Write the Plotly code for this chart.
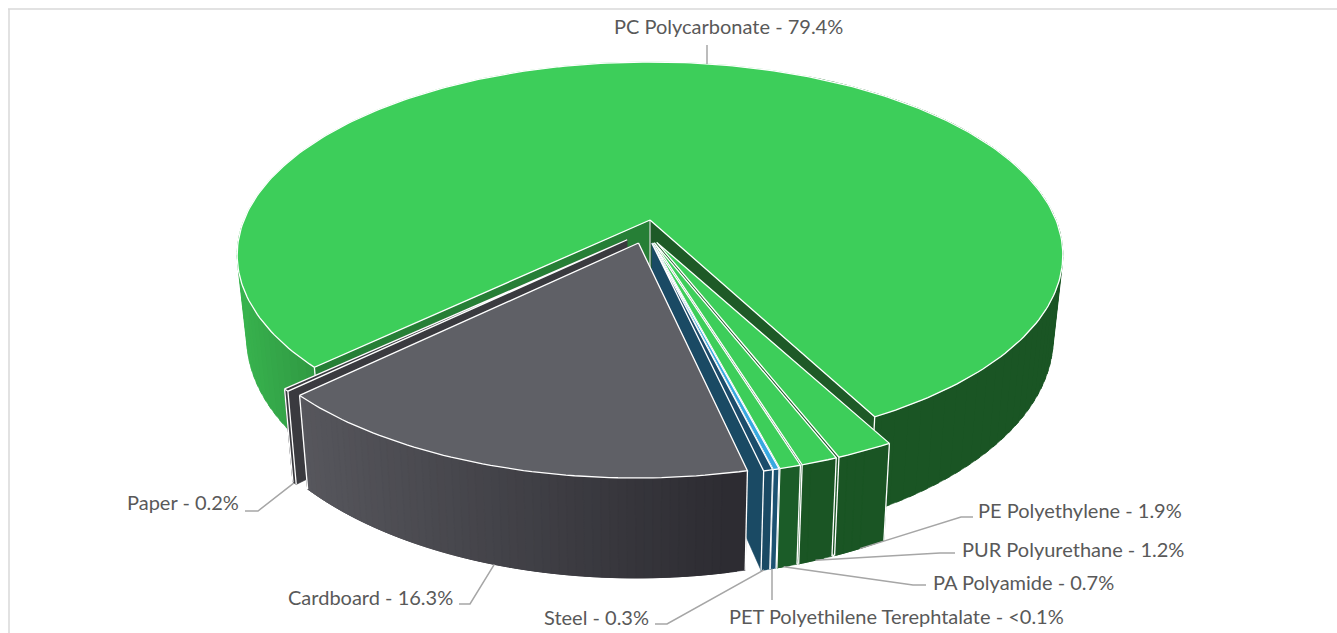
import math
import plotly.graph_objects as go

# ---- data (clockwise from the right cut of the big slice)
names = ["PE Polyethylene", "PUR Polyurethane", "PA Polyamide",
         "PET Polyethilene Terephtalate", "Steel", "Cardboard", "Paper", "PC Polycarbonate"]
values = [1.9, 1.2, 0.7, 0.2, 0.3, 16.3, 0.2, 79.4]
value_text = ["1.9%", "1.2%", "0.7%", "<0.1%", "0.3%", "16.3%", "0.2%", "79.4%"]

# ---- styles
top_col = ["#3dce5a", "#3dce5a", "#3dce5a", "#38a8e0", "#1b4c6b", "#5f6066", "#3a3a40", "#3dce5a"]
side_left = ["#1a5524", "#1a5524", "#1b5c28", "#1c5272", "#1a4a64", "#58585e", "#3a3a3f", "#38b34e"]
side_right = ["#1a5524", "#1a5524", "#1b5c28", "#1c5272", "#1a4a64", "#2d2c32", "#3a3a3f", "#1a5524"]
wall_col = ["#1a5524", "#1a5524", "#1b5c28", "#1c5272", "#1a4a64", "#2d2c32", "#3a3a3f", None]
draw_order = [7, 0, 1, 2, 3, 4, 6, 5]

# ---- projection of the tilted pie
CX, Y0, A, C, R = 650.0, 220.0, -146.8, 0.181, 406.0
K, DEPTH, P = 0.977, 80.0, 1.0
START = -61.6
PC_EXTRA = 0.7
CARD_EXTRA = 0.5
EXPLODE = 0.062
NEAR_SCALE = 0.985
TOTAL = sum(values)


def top(u, v):
    d = 1 + C * v
    return CX + R * u / d, (Y0 + A * v) / d


def bottom(u, v):
    x, y = top(u, v)
    d = 1 + C * v
    return CX + K * (x - CX), y + DEPTH / d ** P


def hex2rgb(h):
    return tuple(int(h[i:i + 2], 16) for i in (1, 3, 5))


def mix(a, b, t):
    ca, cb = hex2rgb(a), hex2rgb(b)
    return "rgb(%d,%d,%d)" % tuple(round(p + (q - p) * t) for p, q in zip(ca, cb))


# angular spans, clockwise
spans = []
ang = START
for val in values:
    sw = val / TOTAL * 360
    spans.append((ang, ang - sw))
    ang -= sw
spans[7] = (spans[7][0], spans[7][1] - PC_EXTRA)
spans[5] = (spans[5][0], spans[5][1] - CARD_EXTRA)
spans[6] = (spans[6][0] - CARD_EXTRA, spans[6][1] - CARD_EXTRA)
pc_mid = math.radians((spans[7][0] + spans[7][1]) / 2)
origin = (-EXPLODE * math.cos(pc_mid), -EXPLODE * math.sin(pc_mid))


def geom(i):
    a0, a1 = spans[i]
    mid = math.radians((a0 + a1) / 2)
    ox = origin[0] + EXPLODE * math.cos(mid)
    oy = origin[1] + EXPLODE * math.sin(mid)
    n = max(3, int(abs(a1 - a0) / 1.0))
    rad = 1.0 if i == 7 else NEAR_SCALE
    pts = []
    for j in range(n + 1):
        th = math.radians(a0 + (a1 - a0) * j / n)
        pts.append((ox + rad * math.cos(th), oy + rad * math.sin(th)))
    return (ox, oy), pts


fig = go.Figure()


def poly(xs, ys, col):
    fig.add_trace(go.Scatter(x=xs, y=ys, mode="lines", fill="toself", fillcolor=col,
                             line=dict(color=col, width=0.6), hoverinfo="skip", showlegend=False))


def line(xs, ys, col="#ffffff", w=1.3):
    fig.add_trace(go.Scatter(x=xs, y=ys, mode="lines", line=dict(color=col, width=w),
                             hoverinfo="skip", showlegend=False))


def side_band(tp, bt, j0, j1, col):
    # overlapping bands hide the seams between neighbouring colours
    j1 = min(j1 + 2, len(tp) - 1)
    up = tp[j0:j1 + 1]
    dn = bt[j0:j1 + 1][::-1]
    poly([p[0] for p in up] + [p[0] for p in dn], [p[1] for p in up] + [p[1] for p in dn], col)


def draw_slice(i):
    apex, pts = geom(i)
    ax, ay = top(*apex)
    bx, by = bottom(*apex)
    tp = [top(*p) for p in pts]
    bt = [bottom(*p) for p in pts]
    n = len(pts) - 1
    if i == 7:
        # the right part of the wall is one flat colour, the left part fades
        split = [j for j in range(n) if tp[j][0] < 650 and tp[j][1] > 225]
        for k in range(0, len(split), 2):
            j = split[k]
            t = min(1, max(0, (tp[j][0] - 237) / 300))
            side_band(tp, bt, j, min(j + 1, n), mix(side_left[i], side_right[i], t))
        for j in range(n - 125, n, 2):
            side_band(tp, bt, j, min(j + 1, n), side_right[i])
        poly([ax, tp[0][0], bt[0][0], bx], [ay, tp[0][1], bt[0][1], by], "#267f36")
        poly([ax, tp[-1][0], bt[-1][0], bx], [ay, tp[-1][1], bt[-1][1], by], "#1e5a27")
        line([ax, bx], [ay, by], "#d9d9d9", 1.2)
    else:
        for e in (0, -1):
            poly([ax, tp[e][0], bt[e][0], bx], [ay, tp[e][1], bt[e][1], by], wall_col[i])
        xa, xb = min(p[0] for p in tp), max(p[0] for p in tp)
        for j in range(n - 1, -1, -1):
            t = (tp[j][0] - xa) / (xb - xa) if xb > xa else 0
            side_band(tp, bt, j, min(j + 1, n), mix(side_left[i], side_right[i], t))
    for e in (0, -1):
        line([tp[e][0], bt[e][0]], [tp[e][1], bt[e][1]])
    xs = [ax] + [p[0] for p in tp] + [ax]
    ys = [ay] + [p[1] for p in tp] + [ay]
    poly(xs, ys, top_col[i])
    line(xs, ys)


for i in draw_order:
    draw_slice(i)

# ---- frame
line([8, 1337], [9, 9], "#d9d9d9", 1.5)
line([9, 9], [9, 633], "#d9d9d9", 1.5)

# ---- labels — layout only
label_layout = {
    0: dict(x=976, y=510, anchor="left", elbow=(961, 517), end=(973, 517)),
    1: dict(x=960, y=549, anchor="left", elbow=(940, 553), end=(955, 553)),
    2: dict(x=931, y=582, anchor="left", elbow=(913, 585), end=(926, 585)),
    3: dict(x=727, y=616, anchor="left", elbow=None, end=(772, 600)),
    4: dict(x=651, y=617, anchor="right", elbow=(667, 624), end=(655, 624)),
    5: dict(x=455, y=597, anchor="right", elbow=(470, 604), end=(459, 604)),
    6: dict(x=241, y=502, anchor="right", elbow=(258, 511), end=(245, 511)),
    7: dict(x=728, y=26, anchor="center", elbow=None, end=(707, 45)),
}
for i, nm in enumerate(names):
    lay = label_layout[i]
    fig.add_annotation(x=lay["x"], y=lay["y"], xref="x", yref="y", showarrow=False,
                       text=f"{nm} - {value_text[i]}", xanchor=lay["anchor"], yanchor="middle",
                       font=dict(family="Lato, Open Sans, sans-serif", size=20, color="#595959"))
    apex, pts = geom(i)
    mid = pts[len(pts) // 2]
    if i == 7:
        sx, sy = top(*mid)
        sx = lay["end"][0]
    else:
        sx, sy = bottom(*mid)
    xs, ys = [sx], [sy]
    if lay["elbow"]:
        xs.append(lay["elbow"][0]); ys.append(lay["elbow"][1])
    xs.append(lay["end"][0]); ys.append(lay["end"][1])
    if lay["elbow"] is None:
        xs[0] = lay["end"][0]
    line(xs, ys, "#a6a6a6", 1.5)

fig.update_layout(width=1337, height=633, margin=dict(l=0, r=0, t=0, b=0),
                  paper_bgcolor="white", plot_bgcolor="white", showlegend=False,
                  xaxis=dict(range=[0, 1337], visible=False, fixedrange=True),
                  yaxis=dict(range=[633, 0], visible=False, fixedrange=True))
fig.write_html("out.html", post_script="document.body.style.margin='0';document.body.style.overflow='hidden';",
               config={"displayModeBar": False})
